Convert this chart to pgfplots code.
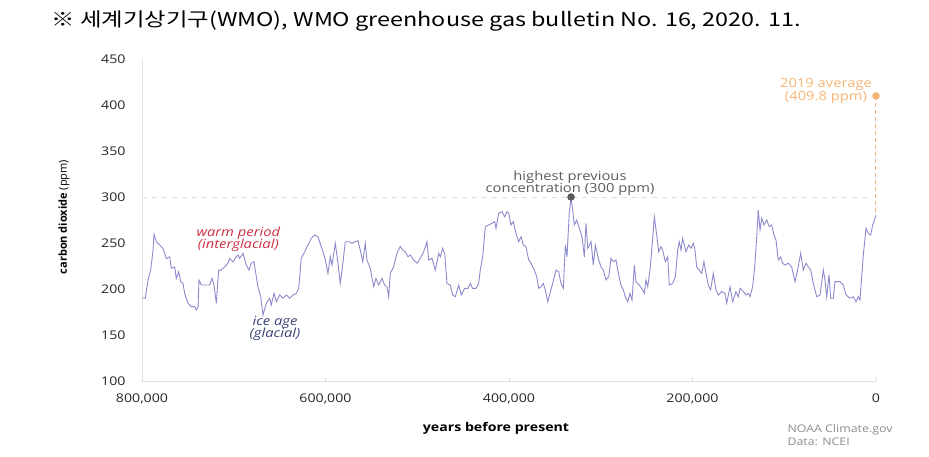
\documentclass[border=0pt]{standalone}
\usepackage{fontspec}
\setmainfont{Open Sans}[FakeStretch=1.18]
\newfontfamily\plain{Open Sans}
\newfontfamily\kr{Noto Sans CJK KR}[FakeStretch=1.23]
\usepackage{pgfplots}
\pgfplotsset{compat=1.18}
\definecolor{co2}{RGB}{140,138,205}
\definecolor{warmred}{RGB}{205,45,65}
\definecolor{iceblue}{RGB}{55,65,115}
\definecolor{orng}{RGB}{246,180,118}
\definecolor{axgray}{RGB}{225,225,225}
\definecolor{txtgray}{RGB}{90,90,90}
\begin{document}
\begin{tikzpicture}
\useasboundingbox (-142pt,-75pt) rectangle (787pt,381pt);
\begin{axis}[
  scale only axis, width=734pt, height=322pt,
  x dir=reverse, xmin=0, xmax=800, ymin=100, ymax=450,
  xtick={0,200,400,600,800},
  xticklabels={0,{200,000},{400,000},{600,000},{800,000}},
  ytick={100,150,...,450},
  axis x line*=bottom, axis y line*=left,
  axis line style={-, draw=axgray, line width=0.8pt},
  xtick style={draw=axgray}, ytick style={draw=none},
  major tick length=4pt,
  /pgf/number format/assume math mode=true,
  tick label style={font=\fontsize{12}{14}\selectfont, text=black!85},
  xticklabel style={yshift=-9pt},
  yticklabel style={xshift=-13pt},
  clip=false,
]
\addplot[dash pattern=on 5pt off 5pt, draw=black!13, line width=0.8pt] coordinates {(800,300) (5,300)};
\addplot[dash pattern=on 4pt off 3pt, draw=orng, line width=1pt] coordinates {(0,409.8) (0,284)};
\addplot[co2, line width=0.9pt] coordinates {
(799,190.5)(796.4,190)(793.4,209.8)(790.5,220.6)(788.0,242)(786.9,259.5)(784.4,251.4)(780.7,247.8)(777.1,244)(773.5,233)(769.8,235)(768.1,222.5)(764.3,224)(762.6,211.6)(760.0,218.8)(757.8,208)(755.3,206)(753.5,195.3)(749.9,184.5)(746.3,180.8)(742.6,180.8)(740.8,177.2)(738.9,180.8)(737.9,209.8)(735.3,204.3)(731.7,204.3)(726.2,204.3)(723.7,211.6)(721.5,204.3)(719.0,184.5)(716.4,220.6)(713.6,220.6)(709.9,224)(706.3,228)(704.4,233.3)(700.8,229.7)(697.2,235)(695.4,237)(693.5,233.3)(689.9,238.8)(686.3,226)(683.4,220.6)(680.9,228)(677.9,229.7)(675.4,213.4)(673.6,202.5)(670.6,191.6)(668.1,171.7)(664.5,184.5)(660.8,190)(659.1,182.6)(656.1,195.3)(653.6,186.2)(649.9,193.5)(646.3,190)(642.7,193.5)(639.0,190)(635.4,193.5)(631.8,195.3)(629.2,200.7)(626.4,233.3)(622.7,240.5)(619.1,247.8)(615.5,255)(611.8,258.7)(608.2,256.8)(604.6,246)(601.6,237)
(600.2,231.5)(597.3,217)(594.8,235)(592.9,226)(589.3,249.6)(586.4,228)(583.9,206)(581.3,226)(578.4,251.4)(574.7,251.4)(571.1,249.6)(567.5,251.4)(564.6,252.5)(562.1,242.4)(559.4,229.7)(556.6,249.6)(554.8,231.5)(551.2,222.5)(547.5,202.5)(545.0,211.6)(542.0,204.3)(538.4,211.6)(535.5,204.3)(533.0,202.5)(531.1,191.6)(529.4,217)(525.7,224)(522.1,238.8)(518.5,246)(515.9,242.4)(513.0,240.5)(510.1,235)(507.6,237)(503.9,231.5)(500.3,228)(496.7,233.3)(493.0,240.5)(489.4,251.4)(487.5,231.5)(483.9,233.3)(480.3,220.6)(476.6,238.8)(474.9,235)(472.3,244.2)(470.1,238.8)(467.6,206)(464.0,204.3)(461.4,193.5)(458.5,191.6)(454.8,204.3)(452.0,193.5)(448.3,200.7)(444.7,200.7)(442.2,206)(439.6,200.7)(436.0,200.7)(433.0,206)(431.3,220.6)(428.7,235)(425.8,267.7)(422.1,269.6)(418.5,271.4)(415.6,273.2)(414.2,266)(411.2,282.3)(407.6,284)(404.7,278.6)(402.2,284)
(400.3,282.3)(397.8,269.6)(395.3,273.2)(392.4,260.5)(389.4,251.4)(386.9,256.8)(384.4,247.8)(381.5,246)(378.5,231.5)(376.0,228)(372.4,220.6)(369.8,213.4)(367.6,200.7)(365.1,202.5)(362.6,206)(360.4,199)(357.8,186.2)(355.3,195.3)(352.4,206)(348.8,220.6)(345.8,218.8)(343.3,206)(340.8,200.7)(338.6,247.8)(336.8,235)(334.3,282.3)(332.4,299)(330.6,285.8)(328.8,269.6)(326.2,275)(323.4,266)(320.4,256.8)(317.9,235)(316.1,271.4)(314.2,244.2)(310.6,251.4)(308.1,226)(305.9,247.8)(302.2,231.5)(299.7,224)(297.2,220.6)(294.3,209.8)(291.3,213.4)(288.8,233.3)(286.3,229.7)(283.4,231.5)(280.4,215.2)(277.9,204.3)(275.4,199)(273.2,191.6)(270.6,186.2)(268.1,195.3)(265.9,188)(263.4,226)(261.6,208)(258.0,204.3)(254.3,199)(252.5,195.3)(250.7,209.8)(248.8,202.5)(246.3,220.6)(244.1,246)(241.6,278.6)(239.0,258.7)(236.8,240.5)(234.3,246)(232.5,242.4)(229.6,229.7)(227.0,235)(225.3,204.3)(221.6,206)(218.7,213.4)(216.1,242.4)(214.4,251.4)(212.5,242.4)(210.7,255)(207.1,240.5)(204.1,247.8)(201.6,244.2)(199.1,249.6)
(197.3,242.4)(195.4,224)(192.6,220.6)(190.0,217)(187.5,229.7)(185.3,217)(182.8,204.3)(180.2,199)(177.3,217)(174.4,199)(171.9,193.5)(168.2,197.1)(164.6,195.3)(162.7,184.5)(159.1,202.5)(156.2,186.2)(152.6,197.1)(150.1,191.6)(148.2,200.7)(144.6,197.1)(141.7,193.5)(139.2,195.3)(137.3,191.6)(134.4,202.5)(131.9,228)(130.0,256.8)(128.3,285.8)(126.4,264.1)(124.6,276.8)(122.1,269.6)(119.1,275)(116.3,267.7)(113.7,269.6)(111.2,258.7)(109.0,253.3)(106.5,231.5)(103.9,235)(101.7,228)(99.2,226)(95.6,228)(91.9,224)(88.3,208)(85.8,218.8)(82.1,238.8)(79.2,220.6)(76.3,228)(73.8,224)(71.2,220.6)(68.3,206)(64.6,191.6)(61.0,193.5)(57.4,220.6)(55.6,209.8)(53.7,191.6)(51.2,215.2)(49.4,190)(46.5,190)(44.7,208)(39.2,208)(35.6,204.3)(32.7,193.5)(28.3,190)(24.7,191.6)(21.8,186.2)(19.3,191.6)(17.4,188)(15.6,213.4)(13.8,237)(10.9,266)(8.4,260.5)(5.8,258.7)(3.6,269.6)(1.1,276.8)(0,280.4)
};
\addplot[only marks, mark=*, mark size=3.5pt, color=black!65] coordinates {(332.4,300)};
\addplot[only marks, mark=*, mark size=3.5pt, color=orng] coordinates {(0,409.8)};
\node[align=center, text=warmred, font=\itshape\fontsize{12.5}{12.5}\selectfont] at (axis cs:695,254) {warm period\\(interglacial)};
\node[align=center, text=iceblue, font=\itshape\fontsize{12.5}{12.5}\selectfont] at (axis cs:655,157) {ice age\\(glacial)};
\node[align=center, text=txtgray, font=\fontsize{12.5}{12.5}\selectfont] at (axis cs:333.5,315) {highest previous\\concentration (300 ppm)};
\node[align=center, text=orng, font=\fontsize{12.5}{12.5}\selectfont] at (axis cs:54.5,415) {2019 average\\(409.8 ppm)};
\end{axis}
\node[rotate=90, font=\plain\fontsize{11}{13}\selectfont] at (-78pt,164pt) {\textbf{carbon dioxide} (ppm)};
\node[font=\bfseries\fontsize{12}{13}\selectfont] at (354pt,-47pt) {years before present};
\node[anchor=west, align=left, text=black!45, font=\fontsize{10.5}{13}\selectfont] at (642pt,-54pt) {NOAA Climate.gov\\Data: NCEI};
\node[anchor=west, font=\kr\fontsize{19}{22}\selectfont] at (-94pt,360pt) {※ 세계기상기구(WMO), WMO greenhouse gas bulletin No. 16, 2020. 11.};
\end{tikzpicture}
\end{document}
